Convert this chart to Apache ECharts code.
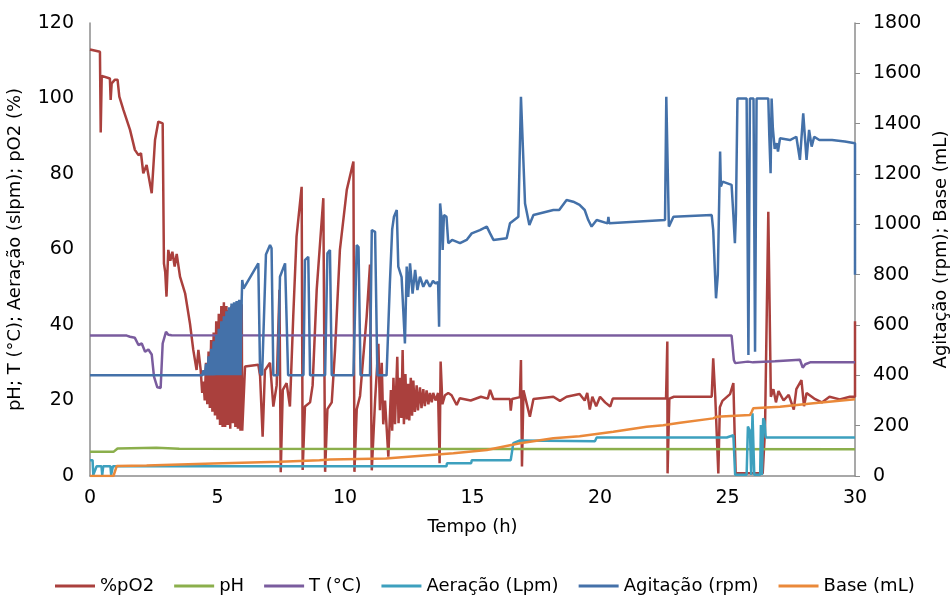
<!DOCTYPE html>
<html>
<head>
<meta charset="utf-8">
<script src="https://cdn.jsdelivr.net/npm/echarts@6/dist/echarts.min.js"></script>
<style>
    html, body { margin: 0; padding: 0; background: #fff; }
    #main { width: 952px; height: 596px; }
</style>
</head>
<body>
<div id="main"></div>
<script>
// tempo (h), valor
var pO2 = [
    [0, 113], [0.39, 112.4], [0.42, 91], [0.46, 106], [0.78, 105.3], [0.81, 99.6], [0.85, 104], [0.98, 105],
    [1.08, 105], [1.15, 100.5], [1.31, 97], [1.57, 91.7], [1.76, 86.4], [1.9, 85], [2.0, 85.5], [2.09, 80.2],
    [2.22, 82.4], [2.42, 74.9], [2.55, 89], [2.68, 93.9], [2.85, 93.4], [2.9, 56.3], [2.95, 54], [3.0, 47.5],
    [3.07, 59.9], [3.15, 57], [3.23, 59.4], [3.32, 55.5], [3.4, 58.8], [3.53, 52.8], [3.73, 48.4], [3.92, 40.4],
    [4.05, 33.4], [4.18, 28.1], [4.25, 33.4], [4.34, 28.1], [4.40, 22],
    [4.45, 25], [4.50, 20], [4.55, 30], [4.60, 19], [4.65, 33], [4.70, 18], [4.75, 36], [4.80, 17],
    [4.85, 38], [4.90, 16], [4.95, 41], [5.00, 15], [5.05, 43], [5.10, 13.5], [5.15, 45], [5.20, 13],
    [5.25, 46], [5.30, 13], [5.35, 45], [5.40, 13.5], [5.45, 44], [5.50, 12.5], [5.55, 45], [5.60, 14],
    [5.65, 44], [5.70, 13], [5.75, 45], [5.80, 12.5], [5.85, 44], [5.90, 12], [5.95, 45.5], [5.97, 12],
    [6.08, 29], [6.6, 29.5], [6.67, 26.5], [6.77, 10.4], [6.86, 28], [7.06, 30], [7.19, 18.4], [7.32, 24],
    [7.43, 49.3], [7.48, 1], [7.56, 22.8], [7.71, 24.6], [7.84, 18.4], [7.97, 42.2], [8.1, 63.4], [8.3, 76.6],
    [8.34, 1.6], [8.43, 18.4], [8.63, 19.5], [8.73, 24], [8.89, 49.3], [9.15, 73.6], [9.22, 1.1], [9.31, 17.7],
    [9.48, 19.5], [9.61, 33.4], [9.8, 59.9], [10.07, 75.8], [10.33, 83.3], [10.37, 1.1], [10.46, 17.7],
    [10.59, 21.2], [10.72, 31.8], [10.85, 42.2], [10.98, 56], [11.05, 1.5], [11.18, 20], [11.31, 35],
    [11.37, 17.4], [11.44, 30], [11.5, 13.7], [11.57, 20], [11.7, 5.1], [11.8, 22.8], [11.85, 12], [11.9, 26],
    [11.96, 13.7], [12.05, 31.6], [12.1, 14], [12.16, 26], [12.21, 15.4], [12.26, 33.4], [12.31, 13.7],
    [12.37, 27], [12.42, 15], [12.48, 24.4], [12.52, 14.7], [12.58, 26], [12.63, 16], [12.68, 25.3],
    [12.74, 17], [12.81, 24], [12.86, 17.4], [12.94, 23.5], [13.0, 18], [13.07, 23], [13.13, 18.5],
    [13.2, 22.7], [13.27, 19], [13.33, 22], [13.4, 19.5], [13.46, 22], [13.55, 20], [13.65, 22],
    [13.71, 3.4], [13.75, 30.3], [13.82, 19], [13.92, 21.4], [14.05, 22], [14.18, 21.4], [14.38, 18.8],
    [14.5, 20.6], [14.93, 20], [15.33, 21], [15.6, 20.5], [15.69, 22.8], [15.82, 20.4], [16.47, 20.4],
    [16.5, 17.3], [16.55, 20.4], [16.86, 20.9], [16.9, 30.7], [16.94, 2.5], [17.0, 22.7], [17.25, 15.7],
    [17.39, 20.4], [18.17, 21], [18.43, 19.9], [18.69, 21], [19.2, 21.7], [19.4, 20], [19.5, 22],
    [19.6, 17.6], [19.7, 21], [19.85, 18.5], [20.0, 21], [20.2, 19.5], [20.4, 18.4], [20.5, 20.5],
    [22.2, 20.5], [22.59, 20.5], [22.64, 35.6], [22.65, 0.7], [22.72, 20.5], [22.9, 21], [24.38, 21],
    [24.44, 31.2], [24.52, 21], [24.64, 0.7], [24.7, 18.2], [24.8, 19.9], [25.1, 21.7], [25.23, 24.6],
    [25.32, 0.7], [26.0, 0.7], [26.38, 0.7], [26.47, 12], [26.6, 70], [26.7, 21], [26.8, 23], [26.9, 19.5],
    [27.0, 22.5], [27.2, 20], [27.4, 21.5], [27.6, 17.6], [27.7, 23], [27.9, 25.4], [28.0, 18.5],
    [28.1, 22], [28.4, 20.5], [28.7, 19.5], [29.0, 21], [29.4, 20.3], [29.8, 21], [30, 21], [30, 41]
];

var pH = [[0, 6.4], [0.92, 6.4], [1.08, 7.3], [2.6, 7.5], [3.5, 7.2], [30, 7.1]];

var temp = [
    [0, 37.2], [1.44, 37.2], [1.57, 36.9], [1.76, 36.6], [1.9, 34.7], [2.03, 35.1], [2.16, 32.9],
    [2.29, 33.5], [2.42, 32.2], [2.51, 26.3], [2.64, 23.5], [2.77, 23.3], [2.85, 35.1], [2.98, 38.2],
    [3.07, 37.4], [3.2, 37.3], [25.16, 37.2], [25.25, 30.7], [25.3, 29.9], [25.8, 30.3], [26.0, 30.1],
    [26.86, 30.4], [27.84, 30.8], [27.95, 28.7], [28.05, 29.6], [28.24, 30.1], [30, 30.1]
];

var aeracao = [
    [0, 4.2], [0.1, 4.2], [0.13, 0.3], [0.2, 0.3], [0.26, 2.6], [0.45, 2.6], [0.48, 0.3], [0.52, 2.6],
    [0.8, 2.6], [0.83, 0.3], [0.9, 2.6], [13.98, 2.6], [14.0, 3.4], [14.95, 3.4], [14.97, 4.2], [16.5, 4.2],
    [16.54, 6], [16.6, 8.7], [16.86, 9.4], [19.8, 9.2], [19.87, 10.2], [24.97, 10.2], [25.23, 10.8],
    [25.3, 0.3], [25.75, 0.3], [25.8, 13.1], [25.88, 12], [25.93, 0.3], [25.98, 16.6], [26.05, 0.3],
    [26.28, 0.3], [26.31, 13.5], [26.35, 0.3], [26.4, 15.3], [26.45, 14.5], [26.5, 10.2], [30, 10.2]
];

var agitacao = [
    [0, 400], [4.40, 400],
    [4.45, 420], [4.50, 400], [4.55, 445], [4.60, 400], [4.65, 475], [4.70, 400], [4.75, 505], [4.80, 400],
    [4.85, 535], [4.90, 400], [4.95, 560], [5.00, 400], [5.05, 585], [5.10, 400], [5.15, 615], [5.20, 400],
    [5.25, 635], [5.30, 400], [5.35, 655], [5.40, 400], [5.45, 670], [5.50, 400], [5.55, 685], [5.60, 400],
    [5.65, 690], [5.70, 400], [5.75, 695], [5.80, 400], [5.85, 700], [5.90, 400], [5.95, 705],
    [5.97, 779], [6.02, 745], [6.6, 845], [6.67, 410], [6.75, 400], [6.8, 400], [6.9, 880], [7.06, 918],
    [7.12, 905], [7.19, 400], [7.37, 400], [7.45, 792], [7.65, 845], [7.77, 400], [8.37, 400], [8.43, 858],
    [8.56, 871], [8.63, 400], [9.22, 400], [9.31, 885], [9.41, 898], [9.48, 400], [10.33, 400], [10.46, 918],
    [10.53, 910], [10.61, 400], [10.98, 400], [11.05, 977], [11.18, 970], [11.27, 400], [11.63, 400],
    [11.76, 766], [11.85, 980], [11.92, 1030], [12.03, 1057], [12.09, 832], [12.22, 790], [12.35, 527],
    [12.42, 832], [12.48, 712], [12.55, 845], [12.65, 725], [12.75, 819], [12.84, 739], [12.94, 792],
    [13.07, 752], [13.2, 779], [13.33, 752], [13.45, 775], [13.53, 766], [13.65, 770], [13.69, 593],
    [13.73, 1083], [13.78, 1030], [13.83, 898], [13.88, 1037], [13.98, 1030], [14.05, 925], [14.2, 938],
    [14.51, 925], [14.77, 938], [14.97, 964], [15.29, 977], [15.56, 991], [15.69, 964], [15.82, 938],
    [16.34, 945], [16.47, 1004], [16.8, 1030], [16.87, 1030], [16.9, 1507], [16.96, 1500], [17.06, 1083],
    [17.23, 997], [17.39, 1037], [18.17, 1057], [18.4, 1057], [18.69, 1097], [18.95, 1090], [19.2, 1077],
    [19.4, 1057], [19.54, 1017], [19.67, 991], [19.87, 1017], [20.3, 1004], [20.33, 1030], [20.36, 1004],
    [22.55, 1017], [22.6, 1507], [22.64, 1507], [22.7, 991], [22.88, 1030], [24.38, 1037], [24.44, 977],
    [24.55, 706], [24.62, 800], [24.71, 1289], [24.74, 1150], [24.81, 1170], [25.16, 1157], [25.23, 1037],
    [25.29, 925], [25.33, 1040], [25.39, 1500], [25.75, 1500], [25.82, 481], [25.88, 1500], [26.02, 1500],
    [26.08, 494], [26.14, 1500], [26.6, 1500], [26.64, 1350], [26.69, 1203], [26.73, 1500], [26.78, 1380],
    [26.85, 1300], [26.93, 1322], [26.98, 1289], [27.06, 1342], [27.45, 1335], [27.7, 1348], [27.84, 1256],
    [27.97, 1441], [28.1, 1256], [28.2, 1375], [28.3, 1309], [28.4, 1348], [28.6, 1335], [29.1, 1335],
    [29.6, 1329], [30, 1322], [30, 800]
];

var base = [
    [0, 0], [0.92, 0], [1.05, 40], [2.22, 42], [4.84, 50], [7.45, 57], [9.0, 63], [9.41, 66], [11.6, 70],
    [14.25, 90], [15.56, 103], [16.86, 130], [18.17, 150], [19.2, 158], [20.52, 176], [21.83, 196],
    [22.48, 202], [23.14, 212], [24.44, 229], [24.57, 235], [25.88, 242], [25.95, 255], [26.01, 269],
    [27.06, 275], [28.37, 289], [30, 305]
];

var nomes = ['%pO2', 'pH', 'T (°C)', 'Aeração (Lpm)', 'Agitação (rpm)', 'Base (mL)'];
var cores = ['#AA403D', '#8BAF4C', '#7A5C9E', '#3DA0BE', '#4471A9', '#EA893A'];
var dados = [pO2, pH, temp, aeracao, agitacao, base];
var eixo = [0, 0, 0, 0, 1, 1];

var fonte = 'DejaVu Sans';
var cinza = '#8c8c8c';

var chart = echarts.init(document.getElementById('main'));

var series = [];
for (var i = 0; i < nomes.length; i++) {
    series.push({
        name: nomes[i],
        type: 'line',
        yAxisIndex: eixo[i],
        data: dados[i],
        showSymbol: false,
        symbol: 'none',
        color: cores[i],
        lineStyle: {width: 2.5, color: cores[i]},
        z: 2 + i
    });
}

chart.setOption({
    backgroundColor: '#fff',
    animation: false,
    grid: {left: 90, right: 97, top: 23, bottom: 120, outerBoundsMode: 'none'},
    legend: {
        data: nomes,
        left: 50,
        top: 572,
        icon: 'rect',
        itemWidth: 40,
        itemHeight: 3,
        itemGap: 20,
        textStyle: {fontFamily: fonte, fontSize: 18, color: '#000'}
    },
    xAxis: {
        type: 'value',
        min: 0,
        max: 30,
        interval: 5,
        name: 'Tempo (h)',
        nameLocation: 'middle',
        nameGap: 42,
        nameTextStyle: {fontFamily: fonte, fontSize: 18, color: '#000'},
        axisLine: {lineStyle: {color: cinza, width: 1.5}},
        axisTick: {show: false},
        splitLine: {show: false},
        axisLabel: {fontFamily: fonte, fontSize: 19, color: '#000', margin: 13}
    },
    yAxis: [
        {
            type: 'value',
            min: 0,
            max: 120,
            interval: 20,
            name: 'pH; T (°C); Aeração (slpm); pO2 (%)',
            nameLocation: 'middle',
            nameGap: 66,
            nameTextStyle: {fontFamily: fonte, fontSize: 18, color: '#000'},
            axisLine: {show: true, lineStyle: {color: cinza, width: 1.5}},
            axisTick: {show: false},
            splitLine: {show: false},
            axisLabel: {fontFamily: fonte, fontSize: 19, color: '#000', margin: 16}
        },
        {
            type: 'value',
            position: 'right',
            min: 0,
            max: 1800,
            interval: 200,
            name: 'Agitação (rpm); Base (mL)',
            nameLocation: 'middle',
            nameGap: 76,
            nameTextStyle: {fontFamily: fonte, fontSize: 18, color: '#000'},
            axisLine: {show: true, lineStyle: {color: cinza, width: 1.5}},
            axisTick: {show: true, length: 5, lineStyle: {color: cinza}},
            splitLine: {show: false},
            axisLabel: {
                fontFamily: fonte, fontSize: 19, color: '#000', margin: 18,
                formatter: function (v) { return String(v); }
            }
        }
    ],
    series: series
});
</script>
</body>
</html>
